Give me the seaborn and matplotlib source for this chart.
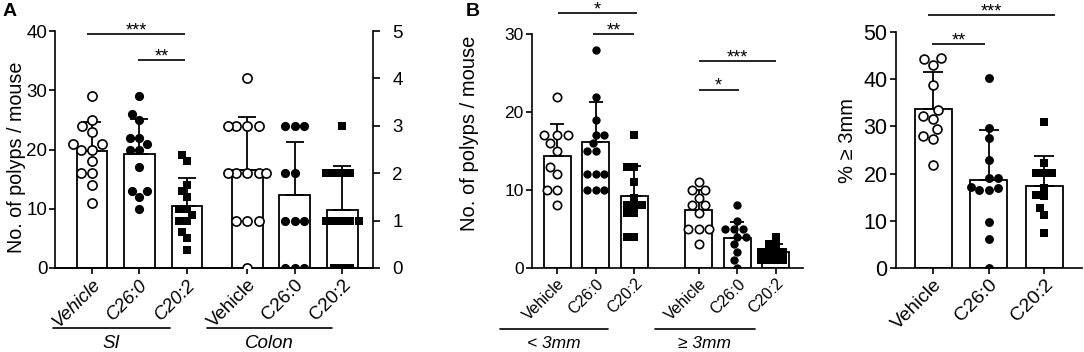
import numpy as np
import pandas as pd
import matplotlib
matplotlib.use("Agg")
import matplotlib.pyplot as plt
import matplotlib.transforms as mtrans
import seaborn as sns

sns.set_theme(style="white")
plt.rcParams["font.family"] = ["Liberation Sans", "DejaVu Sans"]
plt.rcParams.update({
    "axes.linewidth": 1.2,
    "axes.edgecolor": "black",
    "text.color": "black",
    "axes.labelcolor": "black",
    "xtick.color": "black",
    "ytick.color": "black",
})

# ---------------- data ----------------
tick_labels = ["Vehicle", "C26:0", "C20:2"]

# Panel A  (SI on left axis, Colon on right axis 0-5)
A_pos = [0, 1, 2, 3.27, 4.27, 5.27]
A_si_vehicle = [29, 25, 24, 23, 21, 21, 20, 20, 18, 16, 16, 14, 11]
A_si_c26 = [29, 26, 25, 22, 22, 21, 20, 20, 17, 13, 13, 12, 10]
A_si_c20 = [19, 18, 14, 13, 12, 10, 10, 9, 8, 8, 6, 5, 3]
A_colon_vehicle = [4, 3, 3, 3, 3, 2, 2, 2, 2, 2, 1, 1, 1, 0]
A_colon_c26 = [3, 3, 3, 2, 2, 1, 1, 1, 0, 0, 0]
A_colon_c20 = [3, 2, 2, 2, 2, 1, 1, 1, 1, 1, 0, 0, 0]
A_si_mean = [19.8, 19.2, 10.4]
A_si_sd = [4.9, 5.9, 4.8]
A_colon_mean = [2.07, 1.53, 1.23]
A_colon_sd = [1.12, 1.13, 0.92]

# Panel B left (< 3mm and >= 3mm)
B_pos = [0, 1, 2, 3.67, 4.67, 5.67]
B_small_vehicle = [22, 17, 17, 17, 16, 15, 13, 12, 10, 10, 8]
B_small_c26 = [28, 22, 19, 17, 17, 16, 15, 15, 12, 12, 12, 10, 10, 10]
B_small_c20 = [17, 13, 13, 11, 9, 8, 8, 8, 7, 7, 4, 4]
B_large_vehicle = [11, 10, 10, 9, 8, 8, 7, 5, 5, 5, 3]
B_large_c26 = [8, 6, 5, 5, 5, 4, 4, 3, 2, 1, 0]
B_large_c20 = [4, 3, 3, 2, 2, 2, 2, 1, 1, 1, 1]
B_mean = [14.3, 16.1, 9.2, 7.4, 3.8, 2.0]
B_sd = [4.2, 5.2, 3.9, 2.6, 2.1, 1.0]

# Panel B right (% >= 3mm)
C_pos = [0, 1, 2]
C_vehicle = [44.5, 44.3, 43, 38.8, 33.5, 32.2, 31.5, 29.4, 28, 27.3, 21.8]
C_c26 = [40.2, 29.6, 27.5, 22.9, 19, 19, 17.2, 17, 16.5, 16.5, 9.8, 6.2, 0]
C_c20 = [31, 22.3, 20.2, 20.2, 20.2, 16.9, 15.4, 15.2, 12.6, 11.2, 7.4]
C_mean = [33.8, 18.6, 17.3]
C_sd = [7.7, 10.7, 6.4]

W, H = 1084, 352
fig = plt.figure(figsize=(W / 100, H / 100), dpi=100)


def rect(l, r, t, b):
    return [l / W, 1 - b / H, (r - l) / W, (b - t) / H]


STYLE = {
    "Vehicle": dict(marker="o", color="white", edgecolor="black", linewidth=1.2),
    "C26:0": dict(marker="o", color="black", linewidth=0),
    "C20:2": dict(marker="s", color="black", linewidth=0),
}


def draw_group(ax, x, mean, sd, pts, kind, width, size, capsize):
    sns.barplot(x=[x], y=[mean], native_scale=True, width=width, color="white",
                edgecolor="black", linewidth=1.3, errorbar=None, ax=ax, zorder=1)
    ax.errorbar([x], [mean], yerr=[[0], [sd]], fmt="none", ecolor="black",
                elinewidth=1.3, capsize=capsize, capthick=1.3, zorder=2)
    st = dict(STYLE[kind])
    sz = size * (0.85 if st["marker"] == "s" else 1.0)
    sns.swarmplot(x=[x] * len(pts), y=pts, native_scale=True, size=sz,
                  ax=ax, zorder=3, warn_thresh=1.0, **st)


def sig(ax, x1, x2, y, text, fs):
    ax.plot([x1, x2], [y, y], color="black", lw=1.2, clip_on=False,
            solid_capstyle="butt")
    ax.annotate(text, xy=((x1 + x2) / 2, y), xytext=(0, -1.0),
                textcoords="offset points", ha="center", va="baseline",
                fontsize=fs, annotation_clip=False)


def group_label(ax, x1, x2, yline, ytext, text, fs):
    tr = mtrans.blended_transform_factory(ax.transData, ax.transAxes)
    ax.plot([x1, x2], [yline, yline], color="black", lw=1.2, transform=tr,
            clip_on=False)
    ax.text((x1 + x2) / 2, ytext, text, transform=tr, ha="center",
            va="center", fontsize=fs, style="italic")


# ---------------- Panel A ----------------
axA = fig.add_axes(rect(55, 373, 31, 268))
axA2 = axA.twinx()
si_sets = [A_si_vehicle, A_si_c26, A_si_c20]
co_sets = [A_colon_vehicle, A_colon_c26, A_colon_c20]
for i, k in enumerate(tick_labels):
    draw_group(axA, A_pos[i], A_si_mean[i], A_si_sd[i], si_sets[i], k,
               0.65, 6.6, 6.5)
    draw_group(axA2, A_pos[i + 3], A_colon_mean[i], A_colon_sd[i],
               co_sets[i], k, 0.65, 6.6, 6.5)
for a in (axA, axA2):
    a.set_xlim(-0.78, 5.92)
axA.set_ylim(0, 40)
axA2.set_ylim(0, 5)
axA.set_yticks([0, 10, 20, 30, 40])
axA2.set_yticks([0, 1, 2, 3, 4, 5])
axA.set_xticks(A_pos)
axA.set_xticklabels(tick_labels * 2, rotation=45, ha="right",
                    rotation_mode="anchor", fontsize=13.5)
for lbl in axA.get_xticklabels()[:3]:
    lbl.set_style("italic")
axA.set_ylabel("No. of polyps / mouse", fontsize=14.2)
axA.yaxis.set_label_coords(-0.09, 0.465)
axA.tick_params(axis="y", labelsize=13.5, length=4, width=1.2, left=True,
                pad=1.5, direction="out")
axA.tick_params(axis="x", length=4, width=1.2, bottom=True, pad=2,
                direction="out")
axA2.tick_params(axis="y", labelsize=13.5, length=5, width=1.2, right=True,
                 pad=9, direction="out")
axA2.set_ylabel("")
axA2.set_xlabel("")
axA.set_xlabel("")
for a in (axA, axA2):
    a.spines["top"].set_visible(False)
axA.spines["right"].set_visible(False)
axA2.spines["left"].set_visible(False)
sig(axA, -0.1, 1.95, 39.5, "***", 13)
sig(axA, 0.97, 1.95, 35.1, "**", 13)
group_label(axA, -0.82, 1.64, -0.253, -0.318, "SI", 13.5)
group_label(axA, 2.43, 5.05, -0.253, -0.318, "Colon", 13.5)

# ---------------- Panel B left ----------------
axB = fig.add_axes(rect(532, 803, 34.3, 267.7))
b_sets = [B_small_vehicle, B_small_c26, B_small_c20,
          B_large_vehicle, B_large_c26, B_large_c20]
for i in range(6):
    draw_group(axB, B_pos[i], B_mean[i], B_sd[i], b_sets[i],
               tick_labels[i % 3], 0.7, 6.0, 4.7)
axB.set_xlim(-0.65, 6.37)
axB.set_ylim(0, 30)
axB.set_yticks([0, 10, 20, 30])
axB.set_xticks(B_pos)
axB.set_xticklabels(tick_labels * 2, rotation=45, ha="right",
                    rotation_mode="anchor", fontsize=11.5)
axB.set_ylabel("No. of polyps / mouse", fontsize=14.5)
axB.yaxis.set_label_coords(-0.196, 0.575)
axB.set_xlabel("")
axB.tick_params(axis="y", labelsize=12.5, length=4, width=1.2, left=True,
                pad=2, direction="out")
axB.tick_params(axis="x", length=4, width=1.2, bottom=True, pad=2,
                direction="out")
axB.spines["top"].set_visible(False)
axB.spines["right"].set_visible(False)
sig(axB, 0.03, 2.07, 32.7, "*", 13)
sig(axB, 0.93, 2.0, 30.0, "**", 13)
sig(axB, 3.67, 5.68, 26.6, "***", 13)
sig(axB, 3.67, 4.7, 22.9, "*", 13)
group_label(axB, -1.47, 1.32, -0.263, -0.325, "< 3mm", 12.5)
group_label(axB, 2.53, 5.12, -0.263, -0.325, "\u2265 3mm", 12.5)

# ---------------- Panel B right ----------------
axC = fig.add_axes(rect(896, 1082, 32.3, 267.7))
c_sets = [C_vehicle, C_c26, C_c20]
for i, k in enumerate(tick_labels):
    draw_group(axC, C_pos[i], C_mean[i], C_sd[i], c_sets[i], k,
               0.67, 6.4, 7)
axC.set_xlim(-0.67, 2.68)
axC.set_ylim(0, 50)
axC.set_yticks([0, 10, 20, 30, 40, 50])
axC.set_xticks(C_pos)
axC.set_xticklabels(tick_labels, rotation=45, ha="right",
                    rotation_mode="anchor", fontsize=14)
axC.set_ylabel("% \u2265 3mm", fontsize=14.5)
axC.yaxis.set_label_coords(-0.21, 0.54)
axC.set_xlabel("")
axC.tick_params(axis="y", labelsize=15.5, length=4, width=1.2, left=True,
                pad=2, direction="out")
axC.tick_params(axis="x", length=4, width=1.2, bottom=True, pad=2,
                direction="out")
axC.spines["top"].set_visible(False)
axC.spines["right"].set_visible(False)
sig(axC, -0.1, 2.2, 53.7, "***", 13)
sig(axC, -0.02, 0.94, 47.6, "**", 13)

fig.text(3 / W, 1 - 12 / H, "A", fontsize=14, fontweight="bold", va="center")
fig.text(466 / W, 1 - 12 / H, "B", fontsize=14, fontweight="bold", va="center")

fig.savefig("out.png", dpi=100, facecolor="white")
